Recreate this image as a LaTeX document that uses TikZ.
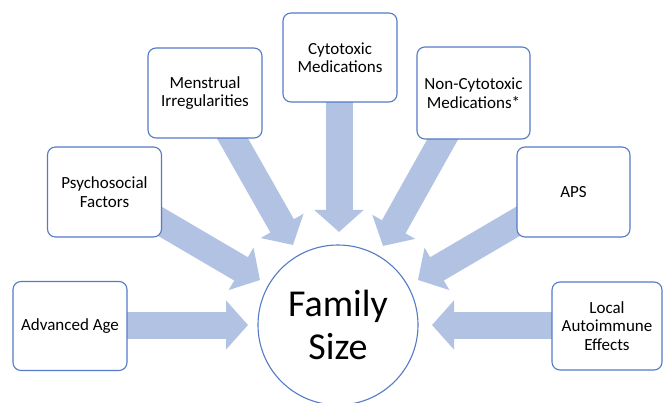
\documentclass[tikz,border=0pt]{standalone}
\usepackage{fontspec}
\setmainfont{Carlito}
\usetikzlibrary{arrows.meta}
\definecolor{boxblue}{RGB}{84,122,200}
\definecolor{arrowblue}{RGB}{178,194,227}
\begin{document}
\begin{tikzpicture}[x=1pt,y=-1pt,
  box/.style={draw=boxblue, line width=1.1pt, fill=white, rounded corners=8pt,
    minimum width=114pt, minimum height=89pt, inner sep=2pt, align=center,
    font=\fontsize{17}{18.5}\selectfont},
  bigarrow/.style={draw=arrowblue, line width=27pt,
    -{Triangle[width=48pt,length=22pt]}}]
\useasboundingbox (0,0) rectangle (663,403);
% tips and starts
\coordinate (tA) at (248,325);
\coordinate (tP) at (260,280);
\coordinate (tM) at (293,245);
\coordinate (tC) at (339,232);
\coordinate (tN) at (383,246);
\coordinate (tS) at (418,280);
\coordinate (tL) at (432,325);
\coordinate (sP) at (150,215.5);
\coordinate (sM) at (226,127);
\coordinate (sC) at (339,95);
\coordinate (sN) at (449,128);
\coordinate (sS) at (528,215.5);
\coordinate (sA) at (120,325);
\coordinate (sL) at (560,325);
% arrows
\draw[bigarrow] (sA) -- (tA);
\draw[bigarrow] (sP) -- (tP);
\draw[bigarrow] (sM) -- (tM);
\draw[bigarrow] (sC) -- (tC);
\draw[bigarrow] (sN) -- (tN);
\draw[bigarrow] (sS) -- (tS);
\draw[bigarrow] (sL) -- (tL);
% boxes
\node[box] (aa) at (70,326) {Advanced Age};
\node[box, minimum height=90pt] (ps) at (104.5,192) {Psychosocial\\Factors};
\node[box, minimum height=90pt] (mi) at (205,93) {Menstrual\\Irregularities};
\node[box] (cy) at (340,57.5) {Cytotoxic\\Medications};
\node[box, minimum width=113pt, minimum height=92pt] (nc) at (473.5,93) {Non-Cytotoxic\\Medications*};
\node[box, minimum width=113pt, minimum height=90pt] (aps) at (573.5,192) {APS};
\node[box, minimum width=110pt, minimum height=88pt] (la) at (607,326) {Local\\Autoimmune\\Effects};
% center
\node[draw=boxblue, line width=1.1pt, fill=white, circle, minimum size=160pt,
  align=center, font=\fontsize{38}{43}\selectfont] (fs) at (338,325) {Family\\Size};
\end{tikzpicture}
\end{document}
